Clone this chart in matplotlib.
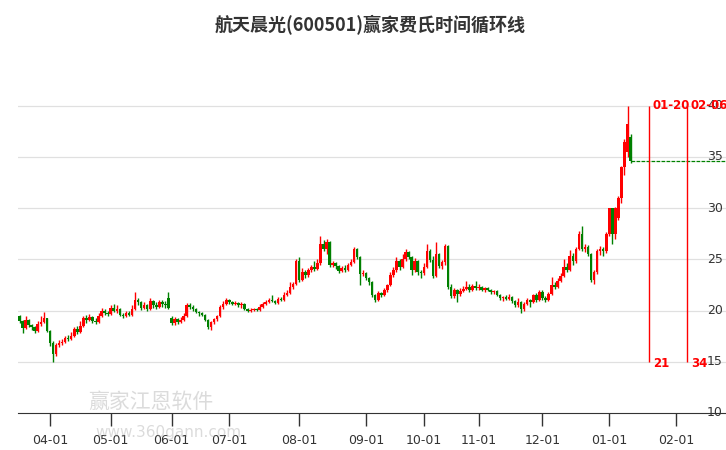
import matplotlib
matplotlib.use("Agg")
import matplotlib.pyplot as plt

plt.rcParams['font.family'] = ['Noto Sans CJK SC', 'DejaVu Sans']

mar = [(19.5,19.0,19.6,18.8),(19.0,18.3,19.1,17.8),(18.3,19.1,19.5,18.2),(19.1,18.6,19.2,18.4),(18.6,18.4,18.7,18.1),(18.4,18.0,18.5,17.8),(18.0,18.7,19.0,17.9),(18.7,18.9,19.5,18.5),(18.9,19.3,19.9,18.8),(19.3,18.0,19.3,17.9)]
apr = [(18.0,16.8,18.1,16.5),(16.8,15.8,17.0,15.0),(15.8,16.6,16.8,15.6),(16.6,16.8,17.1,16.4),(16.8,16.9,17.2,16.6),(16.9,17.3,17.5,16.8),(17.3,17.2,17.6,17.0),(17.2,17.5,17.9,17.1),(17.5,18.2,18.4,17.4),(18.2,17.9,18.5,17.7),(17.9,18.5,19.0,17.8),(18.5,19.3,19.5,18.4),(19.3,19.1,19.6,18.8),(19.1,19.4,19.7,19.0),(19.4,19.0,19.5,18.8),(19.0,18.9,19.3,18.7),(18.9,19.5,19.8,18.8),(19.5,20.0,20.3,19.4),(20.0,19.8,20.2,19.6),(19.8,19.7,20.0,19.5)]
may = [(19.7,20.3,20.5,19.6),(20.3,20.0,20.6,19.9),(20.0,20.2,20.5,19.8),(20.2,19.6,20.3,19.5),(19.6,19.5,19.8,19.3),(19.5,19.8,20.0,19.4),(19.8,19.6,20.0,19.5),(19.6,20.2,20.5,19.5),(20.2,21.0,21.8,20.1),(21.0,20.8,21.2,20.5),(20.8,20.3,20.9,20.1),(20.3,20.5,20.8,20.2),(20.5,20.2,20.6,20.0),(20.2,20.9,21.2,20.1),(20.9,20.5,21.0,20.3),(20.5,20.4,20.8,20.2),(20.4,20.8,21.0,20.3),(20.8,20.6,21.0,20.4),(20.6,20.5,20.9,20.3),(21.2,20.3,21.8,20.2)]
jun = [(19.3,18.8,19.5,18.6),(18.8,19.2,19.4,18.6),(19.2,18.9,19.3,18.7),(18.9,19.1,19.4,18.8),(19.1,19.5,19.8,19.0),(19.5,20.5,20.7,19.4),(20.5,20.4,20.7,20.2),(20.4,20.2,20.5,20.0),(20.2,19.9,20.3,19.8),(19.9,19.8,20.0,19.5),(19.8,19.6,19.9,19.5),(19.6,19.1,19.7,19.0),(19.1,18.4,19.2,18.2),(18.4,18.9,19.0,18.1),(18.9,19.2,19.3,18.7),(19.2,19.5,19.6,19.0),(19.5,20.4,20.5,19.4),(20.4,20.6,20.9,20.2),(20.6,21.0,21.2,20.5)]
jul = [(21.0,20.8,21.1,20.6),(20.8,20.6,20.9,20.5),(20.6,20.7,20.9,20.5),(20.7,20.5,20.8,20.4),(20.5,20.6,20.8,20.3),(20.6,20.2,20.7,20.1),(20.2,20.0,20.3,19.9),(20.0,20.1,20.3,19.9),(20.1,20.2,20.3,20.0),(20.2,20.1,20.3,20.0),(20.1,20.4,20.6,20.0),(20.4,20.6,20.8,20.3),(20.6,20.8,21.0,20.5),(20.8,21.0,21.2,20.7),(21.0,20.9,21.5,20.8),(20.9,20.7,21.0,20.6),(20.7,21.1,21.3,20.6),(21.1,21.0,21.3,20.9),(21.0,21.5,21.8,20.9),(21.5,21.7,22.0,21.4),(21.7,22.3,22.8,21.6),(22.3,22.6,22.8,22.1),(22.6,24.8,25.0,22.5)]
aug = [(24.8,23.0,25.2,22.8),(23.0,23.8,24.2,22.9),(23.8,23.5,24.0,23.2),(23.5,24.0,24.2,23.3),(24.0,24.3,24.5,23.8),(24.3,24.1,24.8,23.9),(24.1,24.6,25.0,24.0),(24.6,26.5,27.3,24.5),(26.5,26.0,26.9,25.8),(26.0,26.7,27.0,25.5),(26.7,24.5,26.8,24.3),(24.5,24.6,24.8,24.3),(24.6,24.4,24.7,24.1),(24.4,23.9,24.5,23.7),(23.9,24.2,24.4,23.8),(24.2,24.0,24.5,23.8),(24.0,24.5,24.6,23.9),(24.5,24.7,25.0,24.4),(24.7,26.0,26.2,24.6),(26.0,25.2,26.1,25.0),(25.2,23.6,25.3,22.5),(23.6,23.7,24.0,23.4)]
sep = [(23.7,23.2,23.8,23.0),(23.2,22.8,23.3,22.5),(22.8,21.5,22.9,21.3),(21.5,21.0,21.6,20.8),(21.0,21.7,21.9,20.9),(21.7,21.5,21.8,21.3),(21.5,22.0,22.2,21.4),(22.0,22.5,22.6,21.8),(22.5,23.5,23.8,22.4),(23.5,24.0,24.3,23.3),(24.0,24.8,25.2,23.8),(24.8,24.3,25.0,24.0),(24.3,25.0,25.5,24.2),(25.0,25.7,26.0,24.8),(25.7,25.2,25.8,25.0),(25.2,24.0,25.3,23.5),(24.0,24.8,25.1,23.8),(24.8,23.8,24.9,23.5),(23.8,23.7,24.0,23.2)]
oct_ = [(23.7,24.3,24.6,23.5),(24.3,25.8,26.5,24.2),(25.8,24.9,26.0,24.7),(24.9,23.4,25.3,23.2),(23.4,25.5,26.7,23.3),(25.5,24.4,25.6,24.2),(24.4,24.7,24.9,24.1),(24.7,26.3,26.5,24.5),(26.3,22.3,26.4,22.1),(22.3,21.4,22.6,21.2),(21.4,22.0,22.2,21.2),(22.0,21.6,22.1,20.8),(21.6,21.9,22.2,21.4),(21.9,22.1,22.4,21.8),(22.1,22.3,22.9,22.0),(22.3,22.0,22.6,21.8),(22.0,22.4,22.6,21.9),(22.4,22.2,22.9,22.0)]
nov = [(22.2,22.3,22.6,22.0),(22.3,22.0,22.4,21.9),(22.0,22.2,22.3,21.8),(22.2,22.0,22.3,21.9),(22.0,21.8,22.1,21.6),(21.8,21.9,22.0,21.6),(21.9,21.5,22.0,21.4),(21.5,21.2,21.6,21.0),(21.2,21.3,21.4,20.9),(21.3,21.1,21.5,21.0),(21.1,21.3,21.6,21.0),(21.3,20.9,21.4,20.7),(20.9,20.5,21.0,20.4),(20.5,20.8,21.2,20.4),(20.8,20.2,20.9,19.8),(20.2,20.6,20.8,20.0),(20.6,21.0,21.2,20.5),(21.0,20.8,21.1,20.4),(20.8,21.5,21.6,20.7),(21.5,21.0,21.7,20.8),(21.0,21.8,22.0,20.9)]
dec = [(21.8,21.2,22.0,21.0),(21.2,21.0,21.4,20.8),(21.0,21.6,21.8,20.9),(21.6,22.5,23.3,21.5),(22.5,22.3,22.8,22.1),(22.3,22.9,23.2,22.2),(22.9,23.4,23.7,22.8),(23.4,24.3,25.0,23.3),(24.3,24.0,24.6,23.8),(24.0,25.3,25.9,23.9),(25.3,24.8,25.6,24.5),(24.8,26.0,26.2,24.6),(26.0,27.5,27.8,25.9),(27.5,26.0,28.3,25.8),(26.0,26.2,26.5,25.7),(26.2,25.5,26.4,25.3),(25.5,23.0,25.6,22.8),(23.0,23.8,24.0,22.6),(23.8,25.8,26.0,23.6),(25.8,26.0,26.3,25.4),(26.0,25.8,26.2,25.3),(25.8,27.5,27.7,25.6)]
jan = [(27.5,30.0,30.0,27.3),(30.0,27.5,30.0,26.5),(27.5,30.0,30.1,27.0),(29.0,31.0,31.2,28.8),(31.0,34.0,34.1,30.5),(34.0,36.5,36.8,33.2),(35.5,38.2,40.0,35.0),(37.0,34.6,37.2,34.4)]

months = [mar, apr, may, jun, jul, aug, sep, oct_, nov, dec, jan]
month_labels = ["04-01","05-01","06-01","07-01","08-01","09-01","10-01","11-01","12-01","01-01","02-01"]
cycle_labels = ["01-20", "02-06"]
cycle_counts = ["21", "34"]
last_close = 34.6
yticks = [10, 15, 20, 25, 30, 35, 40]

candles = [c for m in months for c in m]
starts = []
n = 0
for m in months:
    starts.append(n)
    n += len(m)
tick_pos = starts[1:] + [starts[-1] + 22]
cycle_pos = [starts[-1] + 13, starts[-1] + 25.5]

fig = plt.figure(figsize=(7.26, 4.5), dpi=100)
ax = fig.add_axes([18/726, (450-413)/450, 708/726, (413-50)/450])
ax.set_xlim(-0.5, -0.5 + 708/3.04)
ax.set_ylim(10, 10 + (413-50)/10.24)

for y in yticks[1:]:
    ax.axhline(y, color='#e0e0e0', lw=0.9, zorder=0)

for i, (o, c, h, l) in enumerate(candles):
    col = '#ff0000' if c >= o else '#008000'
    ax.vlines(i, l, h, color=col, lw=1.0, zorder=2)
    ax.bar(i, max(abs(c-o), 0.1), bottom=min(o, c), width=0.85, color=col, zorder=3, linewidth=0)

ax.plot([len(candles)-1, ax.get_xlim()[1]], [last_close, last_close], color='#008000', lw=0.9, ls=(0, (3, 1)), zorder=2)

for p, lab, cnt in zip(cycle_pos, cycle_labels, cycle_counts):
    ax.vlines(p, 15, 40, color='#ff0000', lw=1.0, zorder=2)
    ax.text(p + 1.2, 40, lab, color='#ff0000', fontsize=8.5, fontweight='bold', va='center', ha='left', family='DejaVu Sans')
    ax.text(p + 1.5, 14.8, cnt, color='#ff0000', fontsize=8.5, fontweight='bold', va='center', ha='left', family='DejaVu Sans')

for y in yticks:
    ax.text(ax.get_xlim()[1] - 1, y, str(y), ha='right', va='center', fontsize=9, color='#333333', family='DejaVu Sans', zorder=1)

for s in ['top', 'right', 'left']:
    ax.spines[s].set_visible(False)
ax.spines['bottom'].set_color('#333333')
ax.set_yticks([])
ax.set_xticks(tick_pos)
ax.set_xticklabels(month_labels, fontsize=9, color='#333333', family='DejaVu Sans')
ax.tick_params(axis='x', length=9, width=1, color='#333333', pad=6)

fig.text(370/726, 425/450, "航天晨光(600501)赢家费氏时间循环线", ha='center', va='center', fontsize=13, fontweight='bold', color='#333333')
fig.text(88/726, (450-402)/450, "赢家江恩软件", fontsize=15, color='#999999', alpha=0.35, va='center')
fig.text(95/726, (450-432)/450, "www.360gann.com", fontsize=11, color='#999999', alpha=0.35, va='center', family='DejaVu Sans')

fig.savefig("out.png", dpi=100)
